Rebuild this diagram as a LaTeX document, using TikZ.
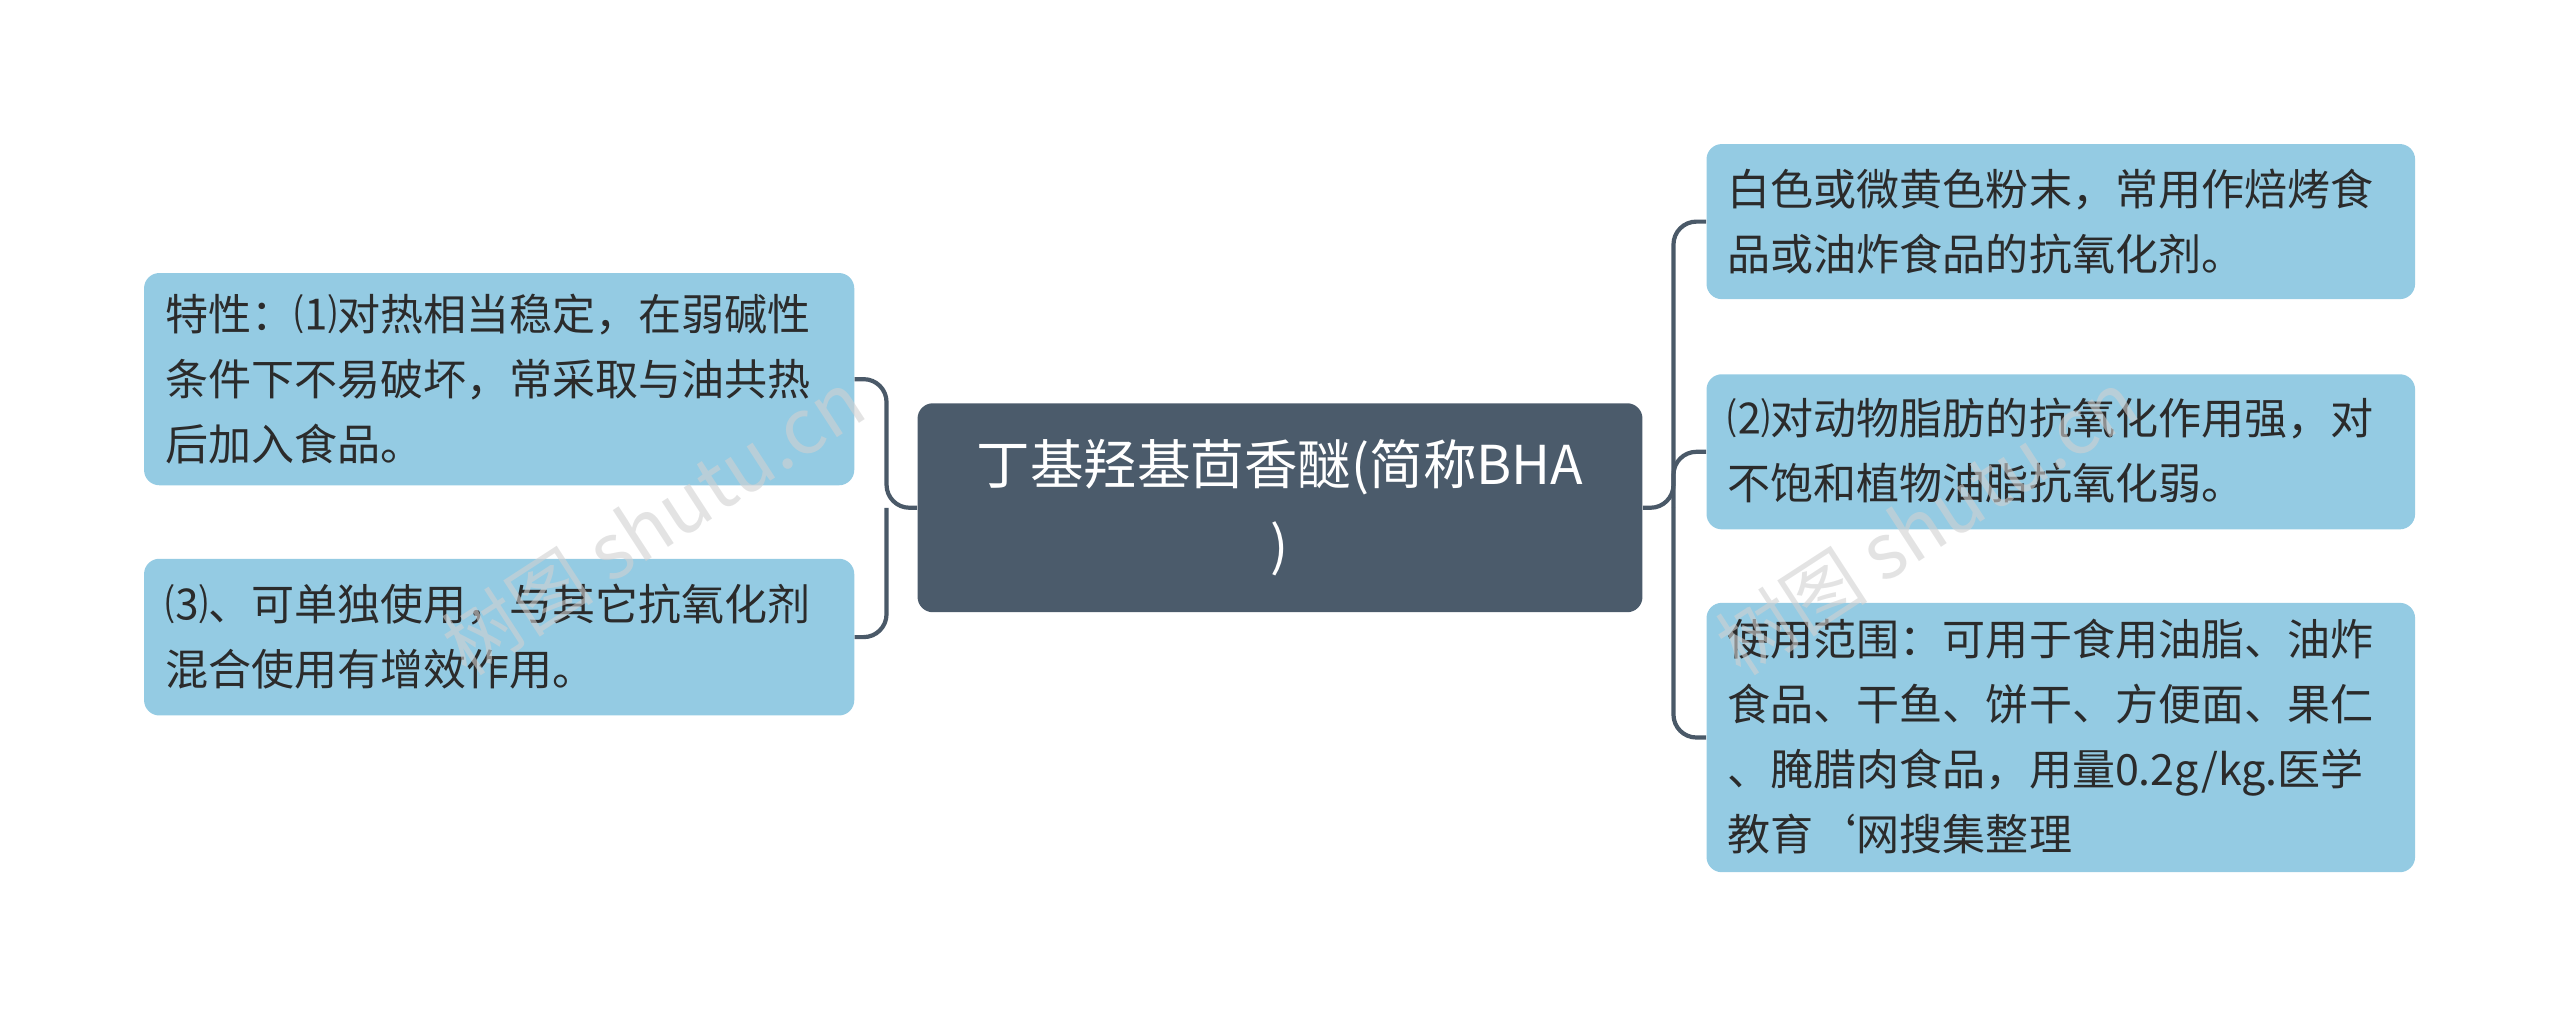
\documentclass[tikz,border=0pt]{standalone}
\usepackage{fontspec}
\setmainfont{Noto Sans CJK SC}
\begin{document}
\begin{tikzpicture}[x=0.03cm,y=-0.03cm,
 leaf/.style={fill=leafblue,rounded corners=8,anchor=north west,align=left,inner sep=0pt},
 ltext/.style={anchor=west,align=left,text=txt,font=\fontsize{22.5pt}{34pt}\selectfont,inner sep=0pt},
 conn/.style={draw=edge,line width=2.2pt,rounded corners=12}]
\definecolor{leafblue}{HTML}{94CBE3}
\definecolor{edge}{HTML}{4A5968}
\definecolor{txt}{HTML}{2B2B2B}
\definecolor{centerc}{HTML}{4B5B6B}
\useasboundingbox (0,0) rectangle (1568,623);
\node[fill=centerc,rounded corners=8,minimum width=444*0.03cm,minimum height=128*0.03cm,text=white,align=center,font=\fontsize{28pt}{42pt}\selectfont] (c) at (784,311) {丁基羟基茴香醚(简称BHA\\)};
\node[leaf,minimum width=435*0.03cm,minimum height=130*0.03cm] (l1) at (88,167) {};
\node[ltext] at (101,232) {特性：⑴对热相当稳定，在弱碱性\\条件下不易破坏，常采取与油共热\\后加入食品。};
\node[leaf,minimum width=435*0.03cm,minimum height=96*0.03cm] (l2) at (88,342) {};
\node[ltext] at (101,390) {⑶、可单独使用，与其它抗氧化剂\\混合使用有增效作用。};
\node[leaf,minimum width=434*0.03cm,minimum height=95*0.03cm] (r1) at (1045,88) {};
\node[ltext] at (1058,136) {白色或微黄色粉末，常用作焙烤食\\品或油炸食品的抗氧化剂。};
\node[leaf,minimum width=434*0.03cm,minimum height=95*0.03cm] (r2) at (1045,229) {};
\node[ltext] at (1058,276) {⑵对动物脂肪的抗氧化作用强，对\\不饱和植物油脂抗氧化弱。};
\node[leaf,minimum width=434*0.03cm,minimum height=165*0.03cm] (r3) at (1045,369) {};
\node[ltext] at (1058,451) {使用范围：可用于食用油脂、油炸\\食品、干鱼、饼干、方便面、果仁\\、腌腊肉食品，用量0.2g/kg.医学\\教育\symbol{96}网搜集整理};
\coordinate (lj) at (543,311);
\coordinate (rj) at (1025,311);
\draw[conn] (c.west) -- (lj) |- (l1.east);
\draw[conn] (lj) |- (l2.east);
\draw[conn] (c.east) -- (rj) |- (r1.west);
\draw[conn] (rj) |- (r2.west);
\draw[conn] (rj) |- (r3.west);
\node[rotate=33,text=black!18,font=\fontsize{40pt}{40pt}\selectfont,opacity=0.6] at (400,320) {树图 shutu.cn};
\node[rotate=33,text=black!18,font=\fontsize{40pt}{40pt}\selectfont,opacity=0.6] at (1180,320) {树图 shutu.cn};
\end{tikzpicture}
\end{document}
